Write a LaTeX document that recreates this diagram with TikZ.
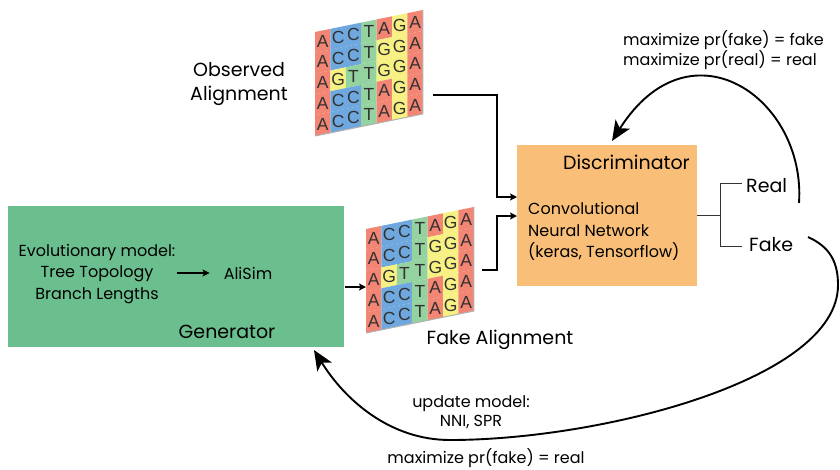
\documentclass[tikz,border=0pt]{standalone}
\usepackage{fontspec}
\setmainfont{Poppins}
\newfontfamily\alnfont{Liberation Sans}
\usetikzlibrary{arrows.meta}
\definecolor{colA}{RGB}{242,133,115}
\definecolor{colC}{RGB}{110,168,222}
\definecolor{colG}{RGB}{247,240,130}
\definecolor{colT}{RGB}{148,211,160}
\definecolor{genfill}{RGB}{107,191,142}
\definecolor{discfill}{RGB}{249,190,119}
\definecolor{lettergray}{RGB}{50,50,50}
\newcommand{\drawalignment}[2]{%
\begin{scope}[shift={(#1,#2)},yslant=0.204]
\foreach \rowletters [count=\i from 0] in {{A,C,C,T,A,G,A},{A,C,C,T,G,G,A},{A,G,T,T,G,G,A},{A,C,C,T,A,G,A},{A,C,C,T,A,G,A}}{
\foreach \L [count=\j from 0] in \rowletters {
\fill[col\L] (\j*15.4,\i*20.8) -- ++(15.45,0) -- ++(0,20.85) -- ++(-15.45,0) -- cycle;
\node[letter] at (\j*15.4+7.7,\i*20.8+10.6) {\L};
}}
\draw[gray!60,line width=1pt] (107.8,0) -- (107.8,104) -- (0,104);
\end{scope}}
\begin{document}
\begin{tikzpicture}[x=1pt,y=-1pt,
  letter/.style={font=\alnfont\fontsize{17.5}{17.5}\selectfont,text=lettergray,inner sep=0pt},
  box/.style={draw=none,inner sep=0pt},
  lbl/.style={font=\fontsize{19}{24}\selectfont,inner sep=0pt},
  sm/.style={font=\fontsize{16}{21.5}\selectfont,inner sep=0pt},
  small2/.style={font=\fontsize{16}{19.5}\selectfont,inner sep=0pt},
  conn/.style={line width=1.8pt,-{Stealth[length=7pt,width=7pt,inset=1.5pt]}},
  brk/.style={line width=1pt,draw=black!80},
  curve/.style={line width=1.9pt,-{Stealth[length=20pt,width=17pt,inset=5pt]}}]
\useasboundingbox (0,0) rectangle (840,469);
% boxes
\node[box,fill=genfill,minimum width=336pt,minimum height=141pt] (gen) at (176,276.5) {};
\node[box,fill=discfill,minimum width=180pt,minimum height=141pt] (disc) at (607,215.5) {};
% alignments
\drawalignment{315}{32}
\drawalignment{366}{229}
\coordinate (obsR) at (433,95);
\coordinate (fakeR) at (482,270);
\coordinate (fakeL) at (366,287);
\coordinate (genout) at (345,287);
\coordinate (in1) at (517,197);
\coordinate (in2) at (517,216);
% labels
\node[lbl,align=center] (obslbl) at (239,84) {Observed\\Alignment};
\node[lbl] (fakelbl) at (500,340) {Fake Alignment};
\node[lbl,anchor=east] (disclbl) at (690,162) {Discriminator};
\node[sm,align=left,anchor=west] (cnn) at (528,231.5) {Convolutional\\Neural Network\\(keras, Tensorflow)};
\node[lbl,anchor=west] (real) at (746,186) {Real};
\node[lbl,anchor=west] (fake) at (749,245) {Fake};
\node[sm,align=center] (evo) at (97,274) {Evolutionary model:\\Tree Topology\\Branch Lengths};
\node[sm] (alisim) at (248,273) {AliSim};
\node[lbl] (genlbl) at (227,332) {Generator};
\node[small2,align=left,anchor=west] (maxd) at (623,50) {maximize pr(fake) = fake\\maximize pr(real) = real};
\node[small2,align=center] (upd) at (471,412) {update model:\\NNI, SPR};
\node[small2] (maxg) at (486,458) {maximize pr(fake) = real};
% connectors
\draw[conn] (obsR) -| (497,197) -- (in1);
\draw[conn] (fakeR) -| (497,216) -- (in2);
\draw[conn] (genout) -- (fakeL);
\draw[conn,shorten <=1pt,shorten >=14pt] (evo.east |- alisim) -- (alisim.west);
% bracket
\coordinate (br) at (720,215.5);
\coordinate (rt) at (742,183);
\coordinate (ft) at (742,246);
\draw[brk] (disc.east) -- (br);
\draw[brk] (rt) -| (br) |- (ft);
% curves
\coordinate (c1s) at (799,203);
\coordinate (c1e) at (612,141);
\draw[curve] (c1s) .. controls (806,98) and (690,18) .. (c1e);
\coordinate (c2s) at (808,237);
\coordinate (c2m) at (838,285);
\coordinate (c2b) at (450,440);
\coordinate (c2e) at (314,350);
\draw[curve] (c2s) .. controls (830,247) and (838,262) .. (c2m) .. controls (838,380) and (600,440) .. (c2b) .. controls (390,440) and (345,400) .. (c2e);
\end{tikzpicture}
\end{document}
